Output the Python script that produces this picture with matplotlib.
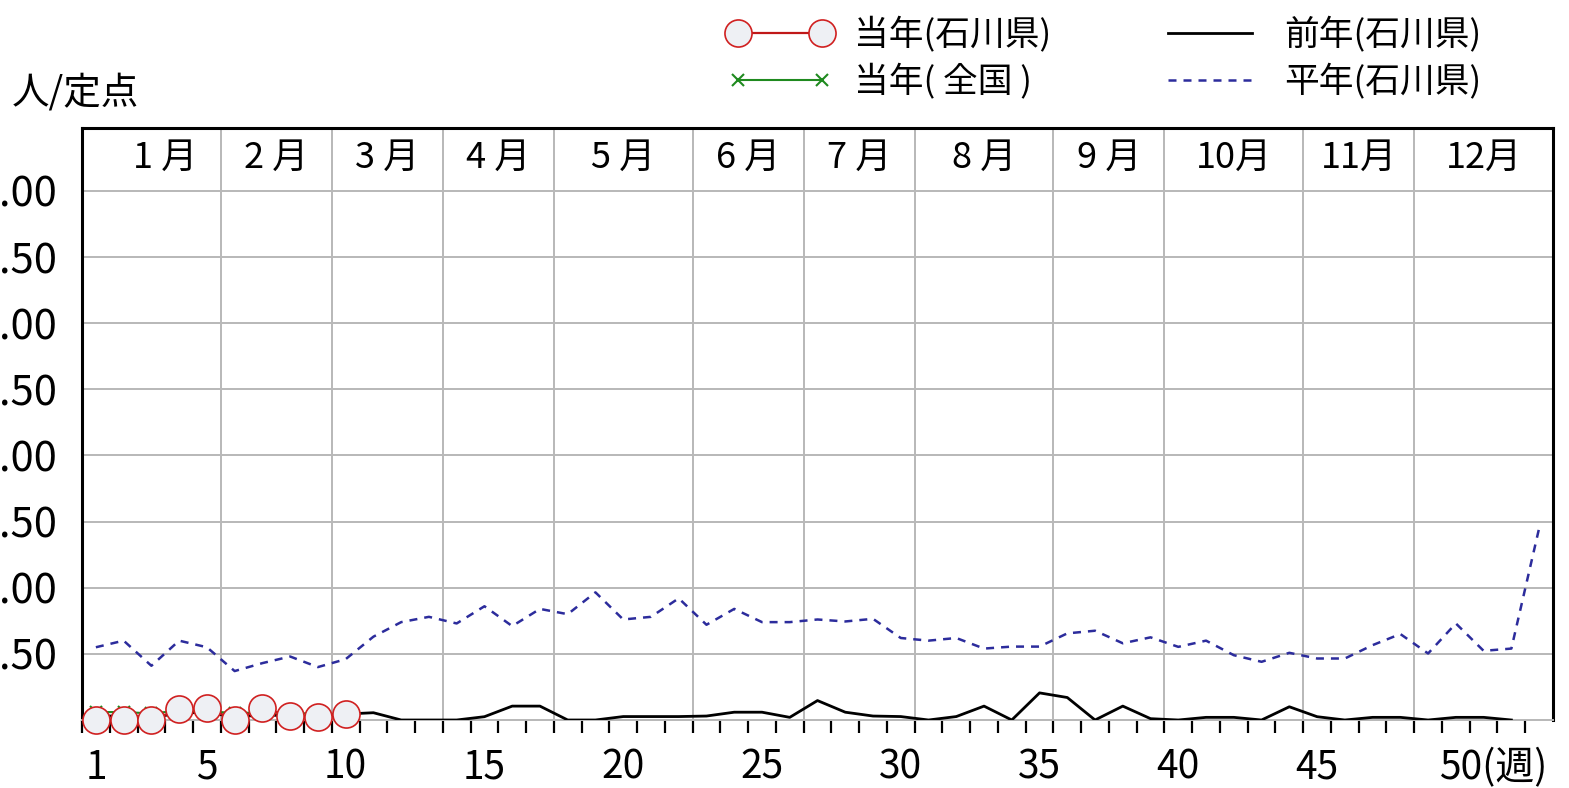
import matplotlib
matplotlib.use("Agg")
import matplotlib.pyplot as plt
import matplotlib.transforms as mtransforms
import numpy as np

# 当年 (weeks 1-10)
weeks_cur = list(range(1, 11))
cur_ishikawa = [0.0, 0.0, 0.0, 0.08, 0.09, 0.0, 0.09, 0.03, 0.02, 0.045]
cur_national = [0.06, 0.06, 0.05, 0.07, 0.07, 0.05, 0.06, 0.05, 0.05, 0.04]

# 前年 (weeks 1-52)
weeks_prev = list(range(1, 53))
prev_ishikawa = [0.03, 0.03, 0.02, 0.05, 0.06, 0.02, 0.04, 0.03, 0.02, 0.045,
                 0.055, 0.0, 0.0, 0.0, 0.025, 0.105, 0.105, 0.0, 0.0, 0.026,
                 0.026, 0.026, 0.03, 0.059, 0.059, 0.02, 0.147, 0.059, 0.03, 0.026,
                 0.0, 0.026, 0.105, 0.0, 0.205, 0.17, 0.0, 0.105, 0.01, 0.0,
                 0.02, 0.02, 0.0, 0.10, 0.025, 0.0, 0.02, 0.02, 0.0, 0.02,
                 0.02, 0.0]

# 平年 (weeks 1-53)
weeks_avg = list(range(1, 54))
avg_ishikawa = [0.55, 0.60, 0.41, 0.60, 0.55, 0.37, 0.43, 0.48, 0.40, 0.46,
                0.63, 0.74, 0.78, 0.73, 0.86, 0.71, 0.84, 0.80, 0.965, 0.76,
                0.78, 0.92, 0.72, 0.84, 0.74, 0.74, 0.76, 0.745, 0.765, 0.62,
                0.60, 0.62, 0.54, 0.555, 0.555, 0.655, 0.675, 0.58, 0.625, 0.553,
                0.60, 0.49, 0.44, 0.508, 0.465, 0.465, 0.566, 0.65, 0.503, 0.73,
                0.523, 0.54, 1.45]

month_labels = ["1 月", "2 月", "3 月", "4 月", "5 月", "6 月",
                "7 月", "8 月", "9 月", "10月", "11月", "12月"]
month_bounds = [5.5, 9.5, 13.5, 17.5, 22.5, 26.5, 30.5, 35.5, 39.5, 44.5, 48.5]
week_ticks = [1, 5, 10, 15, 20, 25, 30, 35, 40, 45, 50]
week_labels = ["1", "5", "10", "15", "20", "25", "30", "35", "40", "45", "50(週)"]
y_ticks = [0.5, 1.0, 1.5, 2.0, 2.5, 3.0, 3.5, 4.0]
# the left edge of the picture cuts off the integer digit, as in the source image
y_labels = [".50", ".00", ".50", ".00", ".50", ".00", ".50", ".00"]

plt.rcParams['font.family'] = ['Noto Sans CJK JP', 'DejaVu Sans']
num_font = ['Liberation Sans Narrow', 'Noto Sans CJK JP', 'DejaVu Sans']
grid_c = '#b8b8b8'

W, H = 1569, 788
fig = plt.figure(figsize=(W / 100, H / 100), dpi=100)
ax = fig.add_axes([82 / W, 68 / H, (1553 - 82) / W, (720 - 128) / H])
ax.set_xlim(0.5, 53.5)
ax.set_ylim(0, 4.476)

# grid
for b in month_bounds:
    ax.axvline(b, color=grid_c, lw=1.4, zorder=1)
ax.set_yticks(y_ticks)
ax.set_yticklabels(y_labels, family=num_font, fontsize=30)
ax.yaxis.grid(True, color=grid_c, lw=1.4, zorder=1)
ax.tick_params(axis='y', length=0, pad=18)

ax.set_xticks(week_ticks)
ax.set_xticklabels(week_labels, family=num_font, fontsize=28)
ax.set_xticks(np.arange(0.5, 53, 1), minor=True)
ax.tick_params(axis='x', which='major', length=0, pad=20)
ax.tick_params(axis='x', which='minor', length=9.5, width=1.6, color='black')
last = ax.xaxis.get_major_ticks()[-1].label1
last.set_horizontalalignment('left')
last.set_transform(last.get_transform() + mtransforms.ScaledTranslation(-12 / 72, 0, fig.dpi_scale_trans))

for side in ['left', 'top', 'right']:
    ax.spines[side].set_linewidth(2.2)
    ax.spines[side].set_color('black')
ax.spines['bottom'].set_color(grid_c)
ax.spines['bottom'].set_linewidth(1.4)

# month labels in the top band
edges = [1.5] + month_bounds + [53.5]
for i, m in enumerate(month_labels):
    ax.text((edges[i] + edges[i + 1]) / 2, 4.25, m, ha='center', va='center', fontsize=26)

# lines
avg_line, = ax.plot(weeks_avg, avg_ishikawa, color='#2c2c9c', lw=1.8, dashes=(3.2, 2.8), zorder=3)
prev_line, = ax.plot(weeks_prev, prev_ishikawa, color='black', lw=2.0, zorder=3)
nat_line, = ax.plot(weeks_cur, cur_national, color='#1f8a1f', lw=1.5, marker='x', ms=8, mew=1.5, zorder=4)
cur_line, = ax.plot(weeks_cur, cur_ishikawa, color='#c01818', lw=1.6, marker='o', ms=19.5,
                    mfc='#eef0f4', mec='#d02020', mew=1.2, zorder=5, clip_on=False)

# unit label
fig.text(12 / W, 1 - 93 / H, "人/定点", ha='left', va='center', fontsize=27)

# legends
leg_kw = dict(frameon=False, borderpad=0, borderaxespad=0, handlelength=3.0,
              handletextpad=0.64, labelspacing=0.32, fontsize=25, numpoints=2)
fig.legend([cur_line, nat_line], ["当年(石川県)", "当年( 全国 )"], loc='upper left',
           bbox_to_anchor=(728 / W, 1 - 17 / H), **leg_kw)
fig.legend([prev_line, avg_line], ["前年(石川県)", "平年(石川県)"], loc='upper left',
           bbox_to_anchor=(1158 / W, 1 - 17 / H), **leg_kw)

fig.savefig("out.png", dpi=100)
